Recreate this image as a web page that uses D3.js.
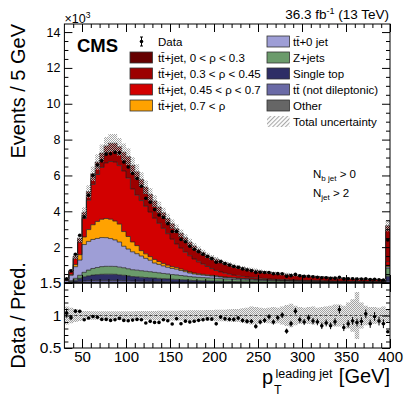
<!DOCTYPE html>
<html><head><meta charset="utf-8">
<script src="https://cdn.jsdelivr.net/npm/d3@7/dist/d3.min.js"></script>
<style>
html,body{margin:0;padding:0;background:#fff;}
svg{display:block;}
text{font-family:"Liberation Sans",Arial,Helvetica,sans-serif;fill:#000;}
</style></head><body>
<svg id="chart" width="407" height="395"></svg>
<script>
// ---------------- data (events in units of 10^3 per 5 GeV bin) ----------------
const binLowEdges = d3.range(30, 400, 5);   // 74 bins, last one = overflow 395-400
const binWidth = 5;

const other = [.003,.01,.02,.03,.035,.04,.04,.045,.045,.045, .045,.045,.04,.04,.04,.035,.035,.03,.03,.03,
 .028,.026,.024,.022,.02,.019,.018,.017,.016,.015, .014,.013,.012,.011,.011,.01,.01,.009,.009,.008,
 .008,.008,.007,.007,.007,.006,.006,.006,.006,.005, .005,.005,.005,.005,.005,.004,.004,.004,.004,.004,
 .004,.004,.004,.004,.004,.004,.004,.004,.004,.004, .004,.004,.004,.05];
const ttNotDilep = [.005,.02,.04,.06,.08,.09,.1,.1,.1,.1, .1,.1,.095,.09,.085,.08,.075,.07,.065,.06,
 .056,.052,.048,.044,.041,.038,.035,.033,.031,.029, .027,.025,.023,.021,.02,.019,.018,.017,.016,.015,
 .014,.013,.012,.012,.011,.011,.01,.01,.009,.009, .009,.008,.008,.008,.007,.007,.007,.007,.006,.006,
 .006,.006,.006,.005,.005,.005,.005,.005,.005,.004, .004,.004,.004,.08];
const singleTop = [.01,.05,.1,.17,.23,.27,.3,.32,.34,.345, .345,.34,.32,.3,.27,.245,.235,.225,.21,.2,
 .19,.18,.17,.16,.15,.143,.13,.12,.105,.095, .09,.085,.08,.075,.07,.066,.062,.058,.055,.052,
 .049,.046,.043,.04,.038,.036,.034,.032,.03,.029, .028,.027,.026,.025,.024,.023,.022,.021,.02,.019,
 .018,.018,.017,.017,.016,.016,.015,.015,.014,.014, .013,.013,.012,.25];
const zJets = [.01,.05,.1,.17,.25,.32,.37,.4,.43,.44, .44,.44,.43,.42,.4,.38,.37,.36,.35,.34,
 .32,.31,.29,.28,.26,.25,.235,.22,.205,.195, .185,.178,.17,.165,.16,.15,.14,.13,.12,.112,
 .105,.1,.095,.09,.085,.08,.076,.072,.068,.064, .06,.057,.054,.051,.048,.046,.044,.042,.04,.038,
 .036,.034,.033,.032,.031,.03,.029,.028,.027,.026, .025,.024,.023,.45];
const tt0jet = [.1,.3,.65,.85,1.55,1.6,1.62,1.62,1.62,1.6, 1.55,1.48,1.4,1.2,1.1,1.0,.92,.82,.72,.64,
 .52,.47,.42,.37,.34,.32,.28,.24,.2,.17, .15,.14,.13,.12,.11,.09,.08,.075,.07,.065,
 .06,.055,.05,.045,.04,.038,.036,.034,.032,.03, .028,.027,.026,.025,.024,.023,.022,.021,.02,.019,
 .018,.018,.017,.017,.016,.016,.015,.015,.014,.014, .013,.013,.012,.08];
const ttjetRhoAbove07 = [.01,.04,.12,.3,.42,.66,.82,.95,1.02,1.07, 1.08,1.05,1.0,.82,.7,.55,.45,.3,.25,.2,
 .2,.16,.14,.12,.1,.09,.08,.07,.06,.055, .05,.045,.04,.036,.032,.03,.028,.026,.024,.022,
 .02,.019,.018,.017,.016,.015,.014,.013,.012,.012, .011,.011,.01,.01,.01,.009,.009,.009,.008,.008,
 .008,.007,.007,.007,.007,.006,.006,.006,.006,.005, .005,.005,.005,.08];
const ttjetRho045to07 = [.062,.16,.32,.69,1.035,1.64,2.25,2.615,2.895,3.1, 3.22,3.295,3.265,3.38,3.255,2.96,2.815,2.795,2.655,2.49,
 2.306,2.132,1.958,1.754,1.539,1.32,1.172,1.02,.903,.781, .664,.564,.465,.372,.297,.255,.212,.175,.146,.126,
 .114,.099,.085,.079,.073,.064,.054,.048,.043,.041, .039,.035,.033,.031,.03,.028,.026,.024,.024,.023,
 .022,.02,.019,.017,.016,.014,.014,.011,.01,.01, .01,.007,.007,.2];
const ttjetRho03to045 = [.012,.04,.08,.13,.18,.25,.32,.38,.44,.55, .6,.62,.62,.63,.78,.9,.9,.8,.71,.65,
 .64,.61,.59,.59,.61,.63,.62,.61,.58,.56, .54,.51,.5,.51,.51,.495,.48,.47,.445,.42,
 .395,.38,.365,.35,.333,.317,.31,.298,.286,.269, .261,.253,.243,.232,.221,.211,.204,.196,.189,.18,
 .172,.163,.158,.153,.148,.143,.137,.132,.127,.121, .115,.11,.104,1.77];
const ttjetRho0to03 = [.008,.03,.07,.1,.17,.23,.28,.32,.36,.4, .42,.43,.43,.42,.42,.42,.4,.38,.36,.34,
 .32,.3,.28,.26,.24,.22,.21,.19,.18,.17, .16,.15,.14,.13,.12,.115,.11,.1,.095,.09,
 .085,.08,.075,.07,.067,.063,.06,.057,.054,.051, .049,.047,.045,.043,.041,.039,.037,.036,.034,.033,
 .031,.03,.029,.028,.027,.026,.025,.024,.023,.022, .021,.02,.019,.24];
const dataEvents = [.228,.676,1.6,2.665,3.69,4.9,6.01,6.58,6.815,7.19, 7.215,7.285,7.26,6.75,6.475,6.105,5.83,5.4,4.73,4.505,
 4.095,3.79,3.66,3.31,2.87,2.88,2.43,2.3,2.05,1.885, 1.74,1.6,1.48,1.36,1.16,1.2,1.083,1.0,.921,.874,
 .786,.728,.683,.591,.603,.583,.588,.513,.521,.513, .372,.411,.48,.402,.369,.376,.343,.324,.29,.292,
 .265,.271,.316,.228,.236,.238,.223,.219,.236,.192, .207,.183,.166,2.4];
const totalUncRel = [.14,.12,.1,.085,.07,.068,.066,.065,.065,.065, .065,.065,.065,.066,.066,.067,.068,.068,.07,.07,
 .07,.072,.072,.074,.075,.075,.076,.078,.08,.08, .082,.082,.085,.085,.088,.09,.09,.095,.1,.1,
 .11,.12,.14,.13,.12,.11,.12,.13,.12,.14, .16,.18,.15,.13,.12,.13,.14,.12,.13,.14,
 .15,.17,.17,.15,.2,.25,.36,.2,.15,.13, .13,.12,.14,.1];

const yTickValues = [2,4,6,8,10,12,14];
const ratioTickValues = [0.5,1,1.5];
const xTickValues = [50,100,150,200,250,300,350,400];

// ---------------- layout ----------------
const L=64.4, R=390, T=24, B=283, RB=348;
const FONT='"Liberation Sans",Arial,Helvetica,sans-serif';
const svg=d3.select("#chart");
const defs=svg.append("defs");
const pat=defs.append("pattern").attr("id","hatch").attr("width",2).attr("height",2)
  .attr("patternUnits","userSpaceOnUse");
pat.append("rect").attr("x",0).attr("y",0).attr("width",1).attr("height",1).attr("fill","#a4a4a4");
pat.append("rect").attr("x",1).attr("y",1).attr("width",1).attr("height",1).attr("fill","#a4a4a4");
const pat2=defs.append("pattern").attr("id","hatchLeg").attr("width",3).attr("height",3)
  .attr("patternUnits","userSpaceOnUse").attr("patternTransform","rotate(45)");
pat2.append("line").attr("x1",0.5).attr("y1",0).attr("x2",0.5).attr("y2",3).attr("stroke","#aaaaaa").attr("stroke-width",1.2);
defs.append("clipPath").attr("id","clipTop").append("rect").attr("x",L).attr("y",T).attr("width",R-L).attr("height",B-T);
defs.append("clipPath").attr("id","clipRatio").append("rect").attr("x",L).attr("y",B).attr("width",R-L).attr("height",RB-B);

const x=d3.scaleLinear().domain([30,400]).range([L,R]);
const y=d3.scaleLinear().domain([0,14.45]).range([B,T]);
const yr=d3.scaleLinear().domain([0.5,1.5]).range([RB,B]);

const components=[
 {key:"other",values:other,color:"#666666"},
 {key:"ttNotDilep",values:ttNotDilep,color:"#6a6aa6"},
 {key:"singleTop",values:singleTop,color:"#2e2e66"},
 {key:"zJets",values:zJets,color:"#6b9b6b"},
 {key:"tt0jet",values:tt0jet,color:"#9e9ed6"},
 {key:"rho4",values:ttjetRhoAbove07,color:"#ffa200"},
 {key:"rho3",values:ttjetRho045to07,color:"#d20000"},
 {key:"rho2",values:ttjetRho03to045,color:"#9c0000"},
 {key:"rho1",values:ttjetRho0to03,color:"#650000"}
];
const rows=binLowEdges.map((lo,i)=>{const r={lo:lo,hi:lo+binWidth}; components.forEach(c=>r[c.key]=c.values[i]); return r;});
const stacked=d3.stack().keys(components.map(c=>c.key))(rows);
const totals=rows.map(r=>d3.sum(components,c=>r[c.key]));

const stepPts=layer=>layer.flatMap(d=>[{x:d.data.lo,y0:d[0],y1:d[1]},{x:d.data.hi,y0:d[0],y1:d[1]}]);
const area=d3.area().x(d=>x(d.x)).y0(d=>y(d.y0)).y1(d=>y(d.y1));
const topLine=d3.line().x(d=>x(d.x)).y(d=>y(d.y1));

const gTop=svg.append("g").attr("clip-path","url(#clipTop)");
stacked.forEach((layer,k)=>{
  const pts=stepPts(layer);
  gTop.append("path").attr("d",area(pts)).attr("fill",components[k].color);
});
stacked.forEach((layer,k)=>{
  const pts=stepPts(layer);
  gTop.append("path").attr("d",topLine(pts)).attr("fill","none").attr("stroke","#1c1c1c").attr("stroke-width",0.7);
});
// uncertainty band
const bandPts=rows.flatMap((r,i)=>[{x:r.lo,y0:totals[i]*(1-totalUncRel[i]),y1:totals[i]*(1+totalUncRel[i])},
                                   {x:r.hi,y0:totals[i]*(1-totalUncRel[i]),y1:totals[i]*(1+totalUncRel[i])}]);
gTop.append("path").attr("d",area(bandPts)).attr("fill","url(#hatch)");
// data
const dataG=gTop.append("g");
rows.forEach((r,i)=>{
  const cx=x(r.lo+binWidth/2), v=dataEvents[i], e=Math.sqrt(v*1000)/1000;
  dataG.append("line").attr("x1",cx).attr("x2",cx).attr("y1",y(v-e)).attr("y2",y(v+e)).attr("stroke","#000").attr("stroke-width",1);
  dataG.append("circle").attr("cx",cx).attr("cy",y(v)).attr("r",1.8).attr("fill","#000");
});

// ---------------- ratio panel ----------------
const gR=svg.append("g").attr("clip-path","url(#clipRatio)");
const rArea=d3.area().x(d=>x(d.x)).y0(d=>yr(d.y0)).y1(d=>yr(d.y1));
const rBand=rows.flatMap((r,i)=>[{x:r.lo,y0:1-totalUncRel[i],y1:1+totalUncRel[i]},{x:r.hi,y0:1-totalUncRel[i],y1:1+totalUncRel[i]}]);
gR.append("path").attr("d",rArea(rBand)).attr("fill","#efefef");
gR.append("path").attr("d",rArea(rBand)).attr("fill","url(#hatch)");
gR.append("line").attr("x1",L).attr("x2",R).attr("y1",yr(1)).attr("y2",yr(1)).attr("stroke","#444").attr("stroke-width",1).attr("stroke-dasharray","3,2");
rows.forEach((r,i)=>{
  const cx=x(r.lo+binWidth/2), v=dataEvents[i], e=Math.sqrt(v*1000)/1000, t=totals[i];
  gR.append("line").attr("x1",cx).attr("x2",cx).attr("y1",yr((v-e)/t)).attr("y2",yr((v+e)/t)).attr("stroke","#000").attr("stroke-width",1);
  gR.append("circle").attr("cx",cx).attr("cy",yr(v/t)).attr("r",1.8).attr("fill","#000");
});

// ---------------- frames & axes ----------------
svg.append("rect").attr("x",L).attr("y",T).attr("width",R-L).attr("height",B-T).attr("fill","none").attr("stroke","#000").attr("stroke-width",1);
svg.append("rect").attr("x",L).attr("y",B).attr("width",R-L).attr("height",RB-B).attr("fill","none").attr("stroke","#000").attr("stroke-width",1);

function put(axis,tx,ty,fs){
  const g=svg.append("g").attr("transform",`translate(${tx},${ty})`).call(axis);
  g.select(".domain").remove();
  g.attr("font-family",FONT).attr("font-size",fs||10);
  g.selectAll("line").attr("stroke","#000").attr("stroke-width",1);
  return g;
}
const minorX=d3.range(40,400,10).filter(v=>v%50!==0);
const minorY=d3.range(0.5,14.45,0.5).filter(v=>v%2!==0);
const minorR=d3.range(0.6,1.45,0.1).filter(v=>Math.abs(v-1)>1e-6);
// top panel
put(d3.axisLeft(y).tickValues(yTickValues).tickSize(-8).tickPadding(4).tickFormat(d3.format("d")),L,0,12.5);
put(d3.axisLeft(y).tickValues(minorY).tickSize(-4).tickFormat(""),L,0);
put(d3.axisRight(y).tickValues(yTickValues).tickSize(-8).tickFormat(""),R,0);
put(d3.axisRight(y).tickValues(minorY).tickSize(-4).tickFormat(""),R,0);
put(d3.axisBottom(x).tickValues(xTickValues).tickSize(-8).tickFormat(""),0,B);
put(d3.axisBottom(x).tickValues(minorX).tickSize(-4).tickFormat(""),0,B);
put(d3.axisTop(x).tickValues(xTickValues).tickSize(-8).tickFormat(""),0,T);
put(d3.axisTop(x).tickValues(minorX).tickSize(-4).tickFormat(""),0,T);
// ratio panel
put(d3.axisLeft(yr).tickValues(ratioTickValues).tickSize(-8).tickPadding(3).tickFormat(d3.format("~g")),L,0,15.5);
put(d3.axisLeft(yr).tickValues(minorR).tickSize(-4).tickFormat(""),L,0);
put(d3.axisRight(yr).tickValues(ratioTickValues).tickSize(-8).tickFormat(""),R,0);
put(d3.axisRight(yr).tickValues(minorR).tickSize(-4).tickFormat(""),R,0);
put(d3.axisBottom(x).tickValues(xTickValues).tickSize(-9).tickPadding(3).tickFormat(d3.format("d")),0,RB,15);
put(d3.axisBottom(x).tickValues(minorX).tickSize(-5).tickFormat(""),0,RB);
put(d3.axisTop(x).tickValues(xTickValues).tickSize(-9).tickFormat(""),0,B);
put(d3.axisTop(x).tickValues(minorX).tickSize(-5).tickFormat(""),0,B);

// ---------------- titles & labels ----------------
svg.append("text").attr("transform","translate(25,24) rotate(-90)").attr("text-anchor","end").attr("font-size",20).text("Events / 5 GeV");
svg.append("text").attr("transform",`translate(25,${(B+RB)/2}) rotate(-90)`).attr("text-anchor","middle").attr("font-size",20).text("Data / Pred.");
svg.append("text").attr("x",262).attr("y",384).attr("font-size",20).text("p");
svg.append("text").attr("x",274).attr("y",393.5).attr("font-size",12.5).text("T");
svg.append("text").attr("x",275.5).attr("y",377.5).attr("font-size",12.5).text("leading jet");
svg.append("text").attr("x",390).attr("y",383).attr("text-anchor","end").attr("font-size",20).text("[GeV]");

const xt=svg.append("text").attr("x",64.5).attr("y",22.5).attr("font-size",12.5).text("×10");
xt.append("tspan").attr("font-size",8.5).attr("dy",-5).text("3");
svg.append("text").attr("x",77).attr("y",52).attr("font-size",18.5).attr("font-weight","bold").text("CMS");
const lumi=svg.append("text").attr("x",389).attr("y",19).attr("text-anchor","end").attr("font-size",13.5);
lumi.append("tspan").text("36.3 fb");
lumi.append("tspan").attr("font-size",9).attr("dy",-5).text("-1");
lumi.append("tspan").attr("dy",5).text(" (13 TeV)");

const n1=svg.append("text").attr("x",313).attr("y",178).attr("font-size",11.5);
n1.append("tspan").text("N");
n1.append("tspan").attr("font-size",8).attr("dy",3).text("b jet");
n1.append("tspan").attr("dy",-3).text(" > 0");
const n2=svg.append("text").attr("x",313).attr("y",197).attr("font-size",11.5);
n2.append("tspan").text("N");
n2.append("tspan").attr("font-size",8).attr("dy",3).text("jet");
n2.append("tspan").attr("dy",-3).text(" > 2");

// ---------------- legend ----------------
const tt="tt\u0304";
const legLeft=[
 {label:"Data",type:"data"},
 {label:tt+"+jet, 0 < \u03c1 < 0.3",color:"#650000"},
 {label:tt+"+jet, 0.3 < \u03c1 < 0.45",color:"#9c0000"},
 {label:tt+"+jet, 0.45 < \u03c1 < 0.7",color:"#d20000"},
 {label:tt+"+jet, 0.7 < \u03c1",color:"#ffa200"}
];
const legRight=[
 {label:tt+"+0 jet",color:"#9e9ed6"},
 {label:"Z+jets",color:"#6b9b6b"},
 {label:"Single top",color:"#2e2e66"},
 {label:tt+" (not dileptonic)",color:"#6a6aa6"},
 {label:"Other",color:"#666666"},
 {label:"Total uncertainty",type:"hatch"}
];
function legend(items,bx,tx){
  items.forEach((it,k)=>{
    const cy=41.5+16*k;
    if(it.type==="data"){
      const mx=bx+11.5;
      svg.append("line").attr("x1",mx).attr("x2",mx).attr("y1",cy-4.5).attr("y2",cy+4.5).attr("stroke","#000");
      svg.append("line").attr("x1",mx-1.5).attr("x2",mx+1.5).attr("y1",cy-4.5).attr("y2",cy-4.5).attr("stroke","#000");
      svg.append("line").attr("x1",mx-1.5).attr("x2",mx+1.5).attr("y1",cy+4.5).attr("y2",cy+4.5).attr("stroke","#000");
      svg.append("circle").attr("cx",mx).attr("cy",cy).attr("r",1.8).attr("fill","#000");
    } else if(it.type==="hatch"){
      svg.append("rect").attr("x",bx).attr("y",cy-5.5).attr("width",22.5).attr("height",11).attr("fill","url(#hatchLeg)");
    } else {
      svg.append("rect").attr("x",bx).attr("y",cy-5.5).attr("width",22.5).attr("height",11).attr("fill",it.color).attr("stroke","#333").attr("stroke-width",0.8);
    }
    svg.append("text").attr("x",tx).attr("y",cy+4).attr("font-size",11.5).text(it.label);
  });
}
legend(legLeft,130,158);
legend(legRight,267,293);
</script>
</body></html>
